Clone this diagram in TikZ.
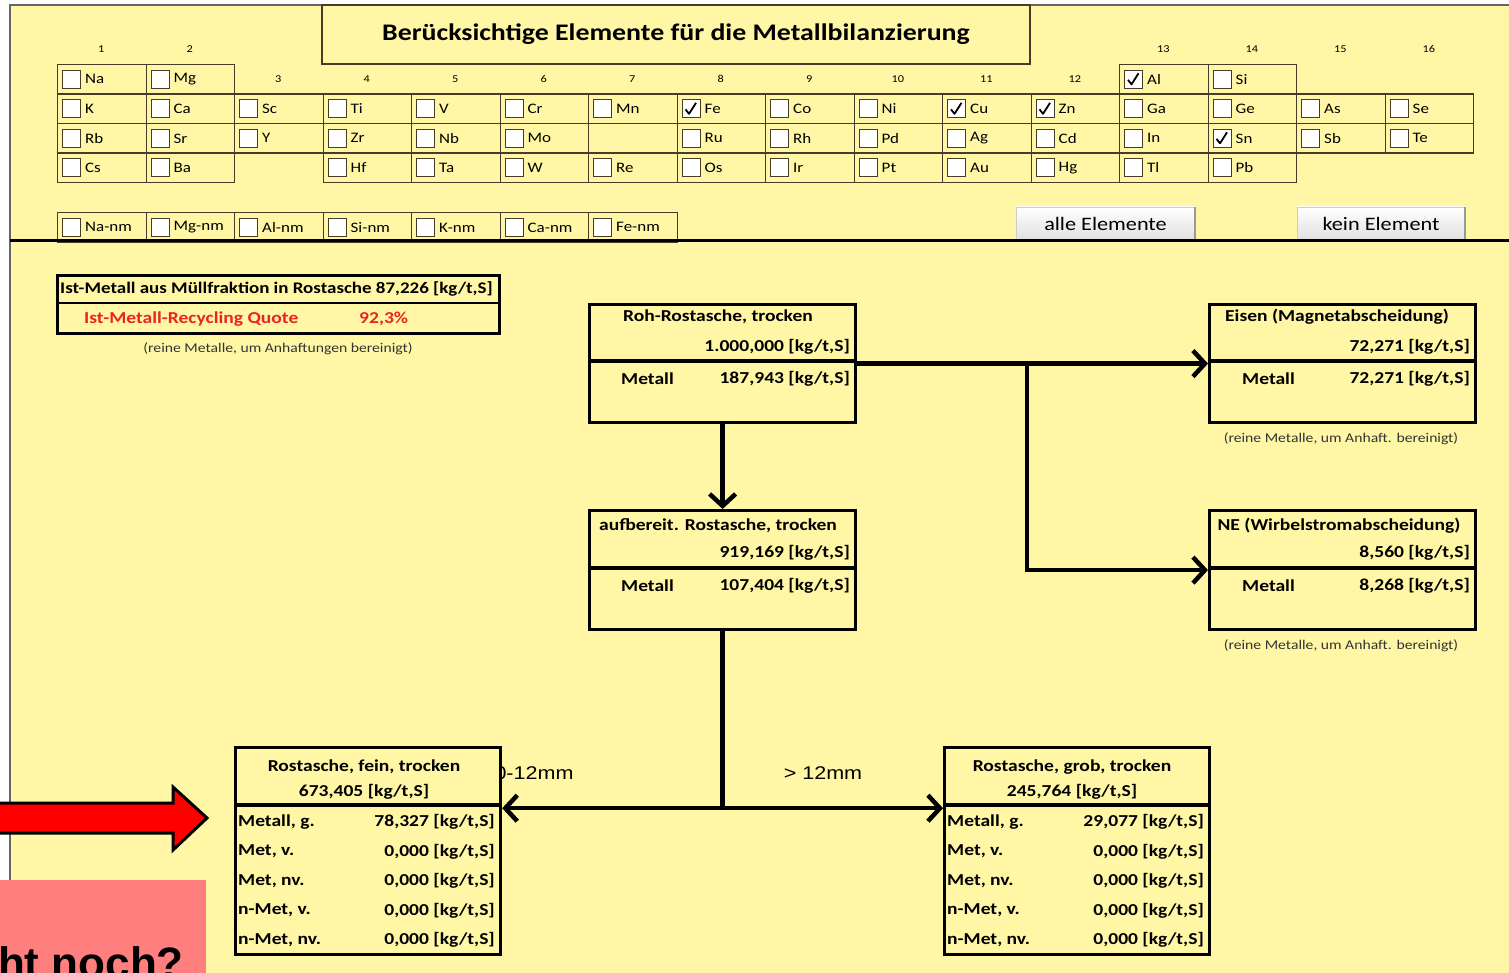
\documentclass[tikz,border=0pt]{standalone}
\usepackage{fontspec}
\setmainfont{Carlito}[FakeStretch=1.17]
\newfontfamily\arialfont{Liberation Sans}[FakeStretch=1.17]
\newfontfamily\hintfont{Liberation Sans}
\usetikzlibrary{arrows.meta,positioning}
\definecolor{sheet}{RGB}{255,247,165}
\definecolor{gridline}{RGB}{70,60,40}
\definecolor{hintred}{RGB}{255,127,127}
\definecolor{quotered}{RGB}{235,35,35}

\begin{document}
\begin{tikzpicture}[
  x=1pt, y=-1pt,
  >={Straight Barb[length=12pt,width=26pt]},
  every node/.style={inner sep=0pt},
  elcell/.style={draw=gridline, line width=1.2pt, minimum width=88.5pt, minimum height=29.5pt, anchor=north west},
  chkbox/.style={draw=gridline, line width=1pt, fill=white, minimum size=18pt},
  ellabel/.style={font=\fontsize{14.5}{17}\selectfont},
  grpnum/.style={font=\fontsize{10.5}{12}\selectfont},
  tick/.style={line width=1.8pt, line join=round},
  button/.style={top color=white, bottom color=black!12, draw=black!20, minimum width=179pt, minimum height=33pt, font=\fontsize{19}{22}\selectfont},
  flowbox/.style={draw, line width=3.2pt, fill=sheet, anchor=north west},
  divider/.style={line width=3.2pt},
  boxtext/.style={font=\bfseries\fontsize{16.7}{20}\selectfont},
  note/.style={font=\fontsize{13.4}{16}\selectfont, text=black!80},
  flow/.style={line width=4.5pt},
  sieve label/.style={font=\arialfont\fontsize{18.4}{22}\selectfont}
]
\useasboundingbox (0,0) rectangle (1509,973);
\fill[white] (0,0) rectangle (1509,973);
\fill[sheet] (10,5) rectangle (1509,973);
\draw[black!60, line width=1.5pt] (1509,5) -- (10,5) -- (10,973);

\node[draw=gridline, line width=1.2pt, minimum width=708pt, minimum height=59pt,
  font=\bfseries\fontsize{23.8}{28}\selectfont] (title) at (676,34.5)
  {Berücksichtige Elemente für die Metallbilanzierung};

\foreach \g in {1,2,13,14,15,16}
  \node[grpnum] (grp\g) at ({57+88.5*(\g-0.5)},49) {\g};
\foreach \g in {3,...,12}
  \node[grpnum] (grp\g) at ({57+88.5*(\g-0.5)},79) {\g};

\foreach \cx/\ry/\el in {1/1/Na, 2/1/Mg, 13/1/Al, 14/1/Si,
    1/2/K, 2/2/Ca, 3/2/Sc, 4/2/Ti, 5/2/V, 6/2/Cr, 7/2/Mn, 8/2/Fe, 9/2/Co, 10/2/Ni,
    11/2/Cu, 12/2/Zn, 13/2/Ga, 14/2/Ge, 15/2/As, 16/2/Se,
    1/3/Rb, 2/3/Sr, 3/3/Y, 4/3/Zr, 5/3/Nb, 6/3/Mo, 8/3/Ru, 9/3/Rh, 10/3/Pd,
    11/3/Ag, 12/3/Cd, 13/3/In, 14/3/Sn, 15/3/Sb, 16/3/Te,
    1/4/Cs, 2/4/Ba, 4/4/Hf, 5/4/Ta, 6/4/W, 7/4/Re, 8/4/Os, 9/4/Ir, 10/4/Pt,
    11/4/Au, 12/4/Hg, 13/4/Tl, 14/4/Pb}{
  \node[elcell] (el-\el) at ({57+88.5*(\cx-1)},{64+29.5*(\ry-1)}) {};
  \node[chkbox, right=5pt of el-\el.west] (chk-\el) {};
  \node[ellabel, right=4pt of chk-\el] (lbl-\el) {\el};
}
\node[elcell] (el-gap) at ({57+88.5*6},{64+29.5*2}) {};

\foreach \cx/\el in {1/Na-nm, 2/Mg-nm, 3/Al-nm, 4/Si-nm, 5/K-nm, 6/Ca-nm, 7/Fe-nm}{
  \node[elcell] (el-\el) at ({57+88.5*(\cx-1)},212) {};
  \node[chkbox, right=5pt of el-\el.west] (chk-\el) {};
  \node[ellabel, right=4pt of chk-\el] (lbl-\el) {\el};
}

\foreach \el in {Fe,Cu,Zn,Al,Sn}
  \draw[tick] (chk-\el.center) ++(-5.5,0.5) -- ++(3.5,4.5) -- ++(7,-11);

\node[button] (allbtn) at (1105.5,223.5) {alle Elemente};
\node[button, minimum width=168pt] (nonebtn) at (1381,223.5) {kein Element};
\foreach \b in {allbtn,nonebtn}
  \draw[black!40, line width=1.5pt] (\b.north east) -- (\b.south east) -- (\b.south west);

\draw[line width=3pt] (10,241) -- (1509,241);

\node[flowbox, minimum width=442pt, minimum height=58pt] (ist) at (56,274) {};
\draw[divider, line width=2.5pt] (ist.north west) ++(0,29) -- ++(442,0);
\node[boxtext, font=\bfseries\fontsize{16.2}{20}\selectfont, anchor=west] (isttext) at (60,289)
  {Ist-Metall aus Müllfraktion in Rostasche 87,226 [kg/t,S]};
\node[boxtext, text=quotered, anchor=west] (quote) at (84,319) {Ist-Metall-Recycling Quote};
\node[boxtext, text=quotered, anchor=west] (quoteval) at (359,319) {92,3\%};
\node[note] (istnote) at (278,349) {(reine Metalle, um Anhaftungen bereinigt)};

\node[sieve label] (finelabel) at (534,773) {0-12mm};
\node[sieve label] (coarselabel) at (823,773) {> 12mm};

\node[flowbox, minimum width=266pt, minimum height=118pt] (roh) at (588,303) {};
\draw[divider] (roh.north west) ++(0,58) -- ++(266,0);
\node[boxtext] (rohtitle) at (718,317) {Roh-Rostasche, trocken};
\node[boxtext, anchor=east] (rohmass) at (850,347) {1.000,000 [kg/t,S]};
\node[boxtext, anchor=west] (rohmetlab) at (621,379) {Metall};
\node[boxtext, anchor=east] (rohmet) at (850,379) {187,943 [kg/t,S]};

\node[flowbox, minimum width=266pt, minimum height=119pt] (auf) at (588,509) {};
\draw[divider] (auf.north west) ++(0,59) -- ++(266,0);
\node[boxtext] (auftitle) at (718,526) {aufbereit. Rostasche, trocken};
\node[boxtext, anchor=east] (aufmass) at (850,553) {919,169 [kg/t,S]};
\node[boxtext, anchor=west] (aufmetlab) at (621,586) {Metall};
\node[boxtext, anchor=east] (aufmet) at (850,586) {107,404 [kg/t,S]};

\node[flowbox, minimum width=266pt, minimum height=118pt] (eisen) at (1208,303) {};
\draw[divider] (eisen.north west) ++(0,58) -- ++(266,0);
\node[boxtext] (eisentitle) at (1337,317) {Eisen (Magnetabscheidung)};
\node[boxtext, anchor=east] (eisenmass) at (1470,347) {72,271 [kg/t,S]};
\node[boxtext, anchor=west] (eisenmetlab) at (1242,379) {Metall};
\node[boxtext, anchor=east] (eisenmet) at (1470,379) {72,271 [kg/t,S]};
\node[note] (eisennote) at (1341,439) {(reine Metalle, um Anhaft. bereinigt)};

\node[flowbox, minimum width=266pt, minimum height=119pt] (ne) at (1208,509) {};
\draw[divider] (ne.north west) ++(0,59) -- ++(266,0);
\node[boxtext] (netitle) at (1339,526) {NE (Wirbelstromabscheidung)};
\node[boxtext, anchor=east] (nemass) at (1470,553) {8,560 [kg/t,S]};
\node[boxtext, anchor=west] (nemetlab) at (1242,586) {Metall};
\node[boxtext, anchor=east] (nemet) at (1470,586) {8,268 [kg/t,S]};
\node[note] (nenote) at (1341,646) {(reine Metalle, um Anhaft. bereinigt)};

\node[flowbox, minimum width=265pt, minimum height=207pt] (fein) at (234,746) {};
\draw[divider] (fein.north west) ++(0,59) -- ++(265,0);
\node[boxtext] (feintitle) at (364,767) {Rostasche, fein, trocken};
\node[boxtext] (feinmass) at (364,792) {673,405 [kg/t,S]};
\foreach \lab/\val [count=\i] in {Metall{,} g./78{,}327, Met{,} v./0{,}000, Met{,} nv./0{,}000,
    n-Met{,} v./0{,}000, n-Met{,} nv./0{,}000}{
  \node[boxtext, anchor=west] (feinlab\i) at (238,{822+29.5*(\i-1)}) {\lab};
  \node[boxtext, anchor=east] (feinval\i) at (495,{822+29.5*(\i-1)}) {\val\ [kg/t,S]};
}

\node[flowbox, minimum width=265pt, minimum height=207pt] (grob) at (943,746) {};
\draw[divider] (grob.north west) ++(0,59) -- ++(265,0);
\node[boxtext] (grobtitle) at (1072,767) {Rostasche, grob, trocken};
\node[boxtext] (grobmass) at (1072,792) {245,764 [kg/t,S]};
\foreach \lab/\val [count=\i] in {Metall{,} g./29{,}077, Met{,} v./0{,}000, Met{,} nv./0{,}000,
    n-Met{,} v./0{,}000, n-Met{,} nv./0{,}000}{
  \node[boxtext, anchor=west] (groblab\i) at (947,{822+29.5*(\i-1)}) {\lab};
  \node[boxtext, anchor=east] (grobval\i) at (1204,{822+29.5*(\i-1)}) {\val\ [kg/t,S]};
}

\coordinate (ironsplit) at (1027,362);
\path (auf.south) ++(0,177) coordinate (sievesplit);
\draw[flow,->] (roh.east) -- (eisen.west);
\draw[flow,->] (ironsplit) |- (ne.west);
\draw[flow,->] (roh.south) -- (auf.north);
\draw[flow] (auf.south) -- (sievesplit);
\draw[flow,->] (sievesplit) -- (fein.east |- sievesplit);
\draw[flow,->] (sievesplit) -- (grob.west |- sievesplit);

\draw[fill=red, line width=3pt, line join=miter] (-5,803) -- (173,803) -- (173,787) -- (207,818)
  -- (173,850) -- (173,833) -- (-5,833) -- cycle;
\fill[hintred] (0,880) rectangle (206,980);
\node[font=\hintfont\bfseries\fontsize{44}{50}\selectfont, anchor=base east] (hint) at (184,978) {cht noch?};
\end{tikzpicture}
\end{document}
